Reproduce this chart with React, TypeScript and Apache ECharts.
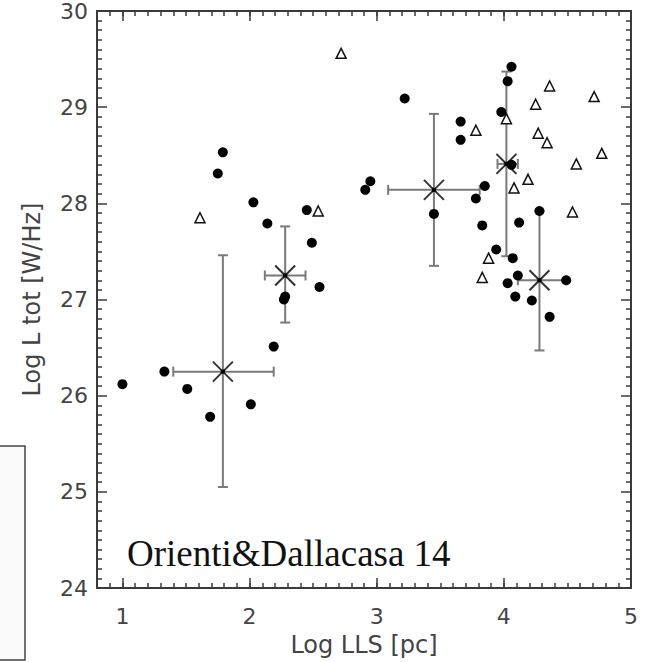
import React, { useEffect, useRef } from "react";
import * as echarts from "echarts";

// Filled circles: [Log LLS, Log L tot]
const dotPoints: number[][] = [
  [1.0, 26.12], [1.33, 26.25], [1.51, 26.07], [1.69, 25.78], [1.75, 28.31],
  [1.79, 28.53], [2.01, 25.91], [2.03, 28.01], [2.14, 27.79], [2.19, 26.51],
  [2.27, 27.0], [2.28, 27.03], [2.45, 27.93], [2.49, 27.59], [2.55, 27.13],
  [2.91, 28.14], [2.95, 28.23], [3.22, 29.09], [3.45, 27.89], [3.66, 28.85],
  [3.66, 28.66], [3.78, 28.05], [3.83, 27.77], [3.85, 28.18], [3.94, 27.52],
  [3.98, 28.95], [4.03, 29.27], [4.06, 29.42], [4.06, 28.4], [4.07, 27.43],
  [4.03, 27.17], [4.09, 27.03], [4.11, 27.25], [4.12, 27.8], [4.22, 26.99],
  [4.28, 27.92], [4.36, 26.82], [4.49, 27.2],
];

// Open triangles: [Log LLS, Log L tot]
const trianglePoints: number[][] = [
  [1.61, 27.85], [2.54, 27.92], [2.72, 29.56], [3.78, 28.76], [3.83, 27.23],
  [3.88, 27.43], [4.02, 28.88], [4.08, 28.16], [4.19, 28.25], [4.25, 29.03],
  [4.27, 28.73], [4.34, 28.63], [4.36, 29.22], [4.54, 27.91], [4.57, 28.41],
  [4.71, 29.11], [4.77, 28.52],
];

// Binned means: [x, y, xLow, xHigh, yLow, yHigh]
const binMeans: number[][] = [
  [1.79, 26.25, 1.4, 2.19, 25.05, 27.46],
  [2.28, 27.25, 2.12, 2.44, 26.76, 27.76],
  [3.45, 28.14, 3.09, 3.81, 27.35, 28.93],
  [4.02, 28.41, 3.95, 4.11, 27.45, 29.37],
  [4.28, 27.2, 4.11, 4.49, 26.47, 27.92],
];

const xMajorTicks = [1, 2, 3, 4, 5];
const xMin = 0.8;
const xMax = 5;
const yMin = 24;
const yMax = 30;

const AXIS_COLOR = "#3a3a3a";
const TEXT_COLOR = "#444";
const FONT = "DejaVu Sans";

export default function App() {
  const ref = useRef<HTMLDivElement>(null);

  useEffect(() => {
    if (!ref.current) return;
    const chart = echarts.init(ref.current, undefined, { renderer: "svg" });

    const baseX = (position: "bottom" | "top", major: boolean, withLabels: boolean) => ({
      type: "value",
      position,
      min: xMin,
      max: xMax,
      interval: 0.1,
      gridIndex: 0,
      axisLine: { show: !major, lineStyle: { color: AXIS_COLOR, width: 2 } },
      axisTick: major
        ? { show: true, inside: true, length: 10, customValues: xMajorTicks, lineStyle: { color: AXIS_COLOR, width: 1.5 } }
        : { show: true, inside: true, length: 5, lineStyle: { color: AXIS_COLOR, width: 1.5 } },
      axisLabel: withLabels
        ? {
            show: true,
            interval: 0,
            margin: 17,
            color: TEXT_COLOR,
            fontFamily: FONT,
            fontSize: 22,
            formatter: (v: number) =>
              Math.abs(v - Math.round(v)) < 1e-6 ? String(Math.round(v)) : "",
          }
        : { show: false },
      splitLine: { show: false },
      name: withLabels ? "Log LLS [pc]" : "",
      nameLocation: "middle",
      nameGap: 45,
      nameTextStyle: { color: TEXT_COLOR, fontFamily: FONT, fontSize: 24 },
    });

    const baseY = (position: "left" | "right", withLabels: boolean) => ({
      type: "value",
      position,
      min: yMin,
      max: yMax,
      interval: 1,
      axisLine: { show: true, lineStyle: { color: AXIS_COLOR, width: 2 } },
      axisTick: { show: true, inside: true, length: 10, lineStyle: { color: AXIS_COLOR, width: 1.5 } },
      minorTick: { show: true, splitNumber: 10, length: 5, lineStyle: { color: AXIS_COLOR, width: 1.5 } },
      axisLabel: withLabels
        ? { show: true, margin: 9, color: TEXT_COLOR, fontFamily: FONT, fontSize: 22 }
        : { show: false },
      splitLine: { show: false },
      minorSplitLine: { show: false },
      name: withLabels ? "Log L tot [W/Hz]" : "",
      nameLocation: "middle",
      nameGap: 53,
      nameTextStyle: { color: TEXT_COLOR, fontFamily: FONT, fontSize: 24 },
    });

    const option = {
      animation: false,
      backgroundColor: "#ffffff",
      grid: { left: 97, right: 16, top: 7, bottom: 74, containLabel: false },
      xAxis: [
        baseX("bottom", false, true),
        baseX("bottom", true, false),
        baseX("top", false, false),
        baseX("top", true, false),
      ],
      yAxis: [baseY("left", true), baseY("right", false)],
      graphic: [
        {
          type: "rect",
          shape: { x: -1, y: 446, width: 26, height: 214 },
          style: { fill: "#fafafa", stroke: "#444", lineWidth: 1.5 },
        },
        {
          type: "text",
          x: 127,
          y: 553,
          style: {
            text: "Orienti&Dallacasa 14",
            font: "37px 'Liberation Serif'",
            fill: "#111",
            verticalAlign: "middle",
            align: "left",
          },
        },
      ],
      series: [
        {
          type: "custom",
          xAxisIndex: 0,
          yAxisIndex: 0,
          data: binMeans,
          renderItem: (params: any, api: any) => {
            const x = api.value(0);
            const y = api.value(1);
            const c = api.coord([x, y]);
            const l = api.coord([api.value(2), y]);
            const r = api.coord([api.value(3), y]);
            const b = api.coord([x, api.value(4)]);
            const t = api.coord([x, api.value(5)]);
            const barStyle = { stroke: "#7a7a7a", lineWidth: 2 };
            const cap = 5;
            const m = 10;
            const markStyle = { stroke: "#333", lineWidth: 2 };
            return {
              type: "group",
              children: [
                { type: "line", shape: { x1: l[0], y1: l[1], x2: r[0], y2: r[1] }, style: barStyle },
                { type: "line", shape: { x1: l[0], y1: l[1] - cap, x2: l[0], y2: l[1] + cap }, style: barStyle },
                { type: "line", shape: { x1: r[0], y1: r[1] - cap, x2: r[0], y2: r[1] + cap }, style: barStyle },
                { type: "line", shape: { x1: b[0], y1: b[1], x2: t[0], y2: t[1] }, style: barStyle },
                { type: "line", shape: { x1: b[0] - cap, y1: b[1], x2: b[0] + cap, y2: b[1] }, style: barStyle },
                { type: "line", shape: { x1: t[0] - cap, y1: t[1], x2: t[0] + cap, y2: t[1] }, style: barStyle },
                { type: "line", shape: { x1: c[0] - m, y1: c[1] - m, x2: c[0] + m, y2: c[1] + m }, style: markStyle },
                { type: "line", shape: { x1: c[0] - m, y1: c[1] + m, x2: c[0] + m, y2: c[1] - m }, style: markStyle },
                { type: "rect", shape: { x: c[0] - 2, y: c[1] - 2, width: 4, height: 4 }, style: { fill: "#000" } },
              ],
            };
          },
          z: 2,
        },
        {
          type: "scatter",
          xAxisIndex: 0,
          yAxisIndex: 0,
          data: dotPoints,
          symbol: "circle",
          symbolSize: 10,
          itemStyle: { color: "#000", opacity: 1 },
          z: 3,
        },
        {
          type: "scatter",
          xAxisIndex: 0,
          yAxisIndex: 0,
          data: trianglePoints,
          symbol: "triangle",
          symbolSize: 10,
          itemStyle: { color: "#fff", borderColor: "#111", borderWidth: 1.5, opacity: 1 },
          z: 3,
        },
      ],
    };

    chart.setOption(option as any);
    return () => chart.dispose();
  }, []);

  return (
    <div
      ref={ref}
      style={{ position: "absolute", left: 0, top: 0, width: 647, height: 662, background: "#fff" }}
    />
  );
}
